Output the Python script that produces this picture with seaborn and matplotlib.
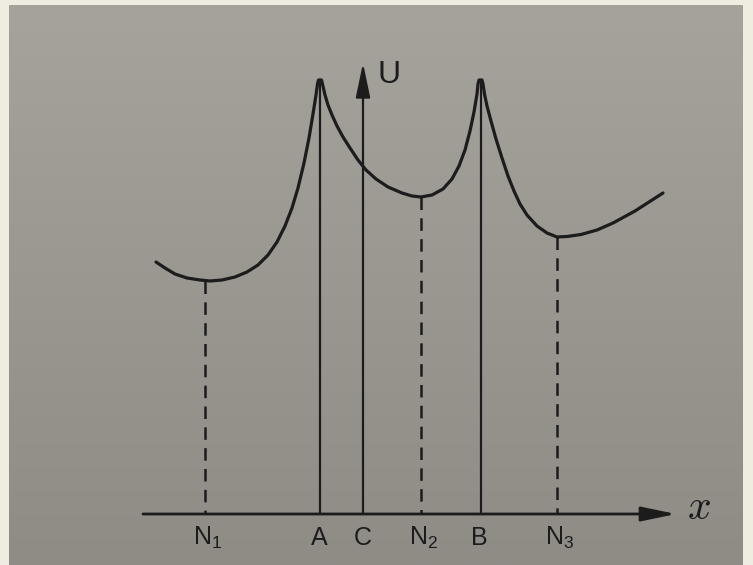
import matplotlib
matplotlib.use("Agg")
import matplotlib.pyplot as plt
import seaborn as sns
import numpy as np
import pandas as pd

# ---- data (diagram units: x relative to C, U above the x axis) ----
curve_x = [-20.5, -19.6, -18.6, -17.4, -16.1, -15.1, -13.9, -12.6, -11.4, -10.3, -9.3, -8.4, -7.6,
           -6.9, -6.3, -5.7, -5.2, -4.8, -4.5, -4.35, -4.25, -3.95, -3.85, -3.6, -3.3, -2.9, -2.4, -1.8,
           -1.1, -0.3, 0.5, 1.5, 2.7, 4.1, 5.1, 6.0, 7.1, 8.2, 9.1, 9.8, 10.4, 10.9, 11.3, 11.6,
           11.7, 11.8, 12.1, 12.2, 12.35, 12.6, 13.0, 13.5, 14.1, 14.7, 15.3, 15.9, 16.6, 17.6,
           18.6, 19.6, 20.6, 22.0, 23.6, 25.2, 27.4, 30.2]
curve_u = [25.2, 24.6, 24.0, 23.6, 23.4, 23.3, 23.4, 23.7, 24.2, 24.9, 25.9, 27.2, 28.8,
           30.6, 32.6, 35.1, 37.6, 40.0, 41.9, 43.0, 43.4, 43.4, 43.0, 41.9, 40.9, 39.9, 38.8, 37.7,
           36.6, 35.4, 34.4, 33.5, 32.7, 32.1, 31.8, 31.7, 31.9, 32.5, 33.5, 34.8, 36.4, 38.3, 40.2,
           42.0, 43.0, 43.4, 43.4, 43.0, 42.0, 40.8, 39.3, 37.5, 35.6, 33.8, 32.3, 31.0, 29.9, 28.8,
           28.1, 27.7, 27.75, 27.95, 28.4, 29.1, 30.3, 32.1]

tick_labels = ["N$_\\mathregular{1}$", "A", "C", "N$_\\mathregular{2}$", "B", "N$_\\mathregular{3}$"]
tick_x = [-15.6, -4.2, 0.2, 6.0, 11.8, 19.6]

peak_x = [-4.1, 11.95]         # A, B  (solid lines)
peak_u = [43.4, 43.4]
min_x = [-15.6, 6.0, 19.6]     # N1, N2, N3 (dashed lines)
min_u = [23.3, 31.7, 27.7]

x_axis_start, x_axis_end = -21.8, 31.5
u_axis_x, u_axis_top = 0.2, 45.1

# ---- style ----
sns.set_theme(style="white")
plt.rcParams["font.family"] = ["Liberation Sans", "DejaVu Sans"]
plt.rcParams["lines.scale_dashes"] = False
ink = "#1c1c1c"

fig = plt.figure(figsize=(7.53, 5.65), dpi=100, facecolor="#efece2")

# paper background (photo of a page)
bg = fig.add_axes([9 / 753, 0, (743 - 9) / 753, (565 - 5) / 565])
top_c = np.array([166, 162, 156]) / 255
bot_c = np.array([143, 140, 134]) / 255
t = np.linspace(0, 1, 256)[:, None, None]
grad = top_c * (1 - t) + bot_c * t
bg.imshow(grad, aspect="auto", extent=[0, 1, 0, 1])
bg.set_axis_off()

ax = fig.add_axes([0, 0, 1, 1])
ax.patch.set_alpha(0)
ax.set_xlim(-36.1, 39.2)
ax.set_ylim(-5.1, 51.4)
ax.set_axis_off()

df = pd.DataFrame({"x": curve_x, "U": curve_u})
sns.lineplot(data=df, x="x", y="U", ax=ax, color=ink, lw=2.3, sort=False,
             estimator=None, solid_joinstyle="round", solid_capstyle="round")

# solid verticals at A and B
ax.vlines(peak_x, 0, peak_u, colors=ink, lw=1.6)
# dashed verticals at minima (start dashes at the curve)
for xm, um in zip(min_x, min_u):
    ax.plot([xm, xm], [um, 0], color=ink, lw=1.8, linestyle=(0, (9.0, 6.0)))

# axes arrows
arrow_kw = dict(arrowstyle="-|>,head_length=1.05,head_width=0.22", color=ink, lw=2.0,
                shrinkA=0, shrinkB=0, mutation_scale=20)
ax.annotate("", xy=(x_axis_end, 0), xytext=(x_axis_start, 0), arrowprops=arrow_kw)
ax.annotate("", xy=(u_axis_x, u_axis_top), xytext=(u_axis_x, 0),
            arrowprops=dict(arrow_kw, lw=1.6))

# labels
for lab, xp in zip(tick_labels, tick_x):
    ax.text(xp + (0.3 if "N" in lab else 0), -3.1, lab, ha="center", va="baseline",
            fontsize=18, color=ink)
ax.text(u_axis_x + 1.4, 43.1, "U", ha="left", va="baseline", fontsize=23, color=ink)
ax.text(x_axis_end + 1.1, -0.5, "$x$", ha="left", va="baseline", fontsize=30,
        color=ink, math_fontfamily="cm")

fig.savefig("out.png", dpi=100, facecolor=fig.get_facecolor())
